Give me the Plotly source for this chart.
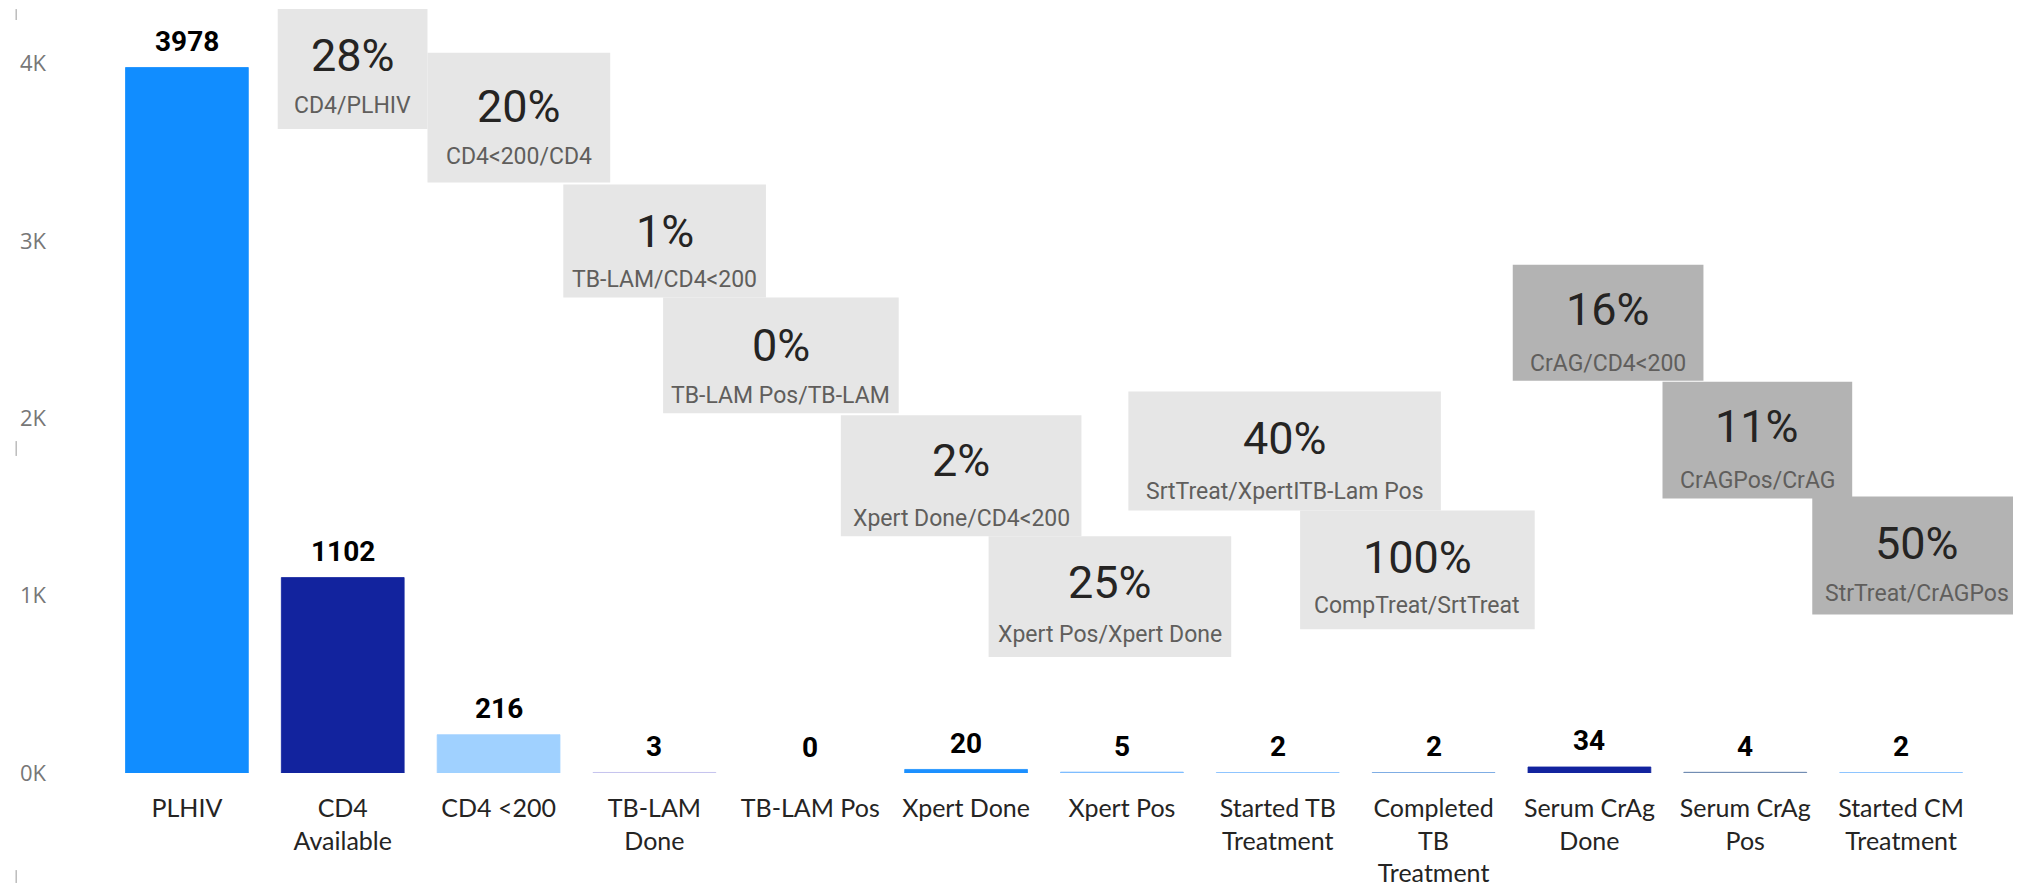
import plotly.graph_objects as go

# funnel counts
categories = [
    "PLHIV",
    "CD4<br>Available",
    "CD4 &lt;200",
    "TB-LAM<br>Done",
    "TB-LAM Pos",
    "Xpert Done",
    "Xpert Pos",
    "Started TB<br>Treatment",
    "Completed<br>TB<br>Treatment",
    "Serum CrAg<br>Done",
    "Serum CrAg<br>Pos",
    "Started CM<br>Treatment",
]
counts = [3978, 1102, 216, 3, 0, 20, 5, 2, 2, 34, 4, 2]

y_tick_vals = [0, 1000, 2000, 3000, 4000]
y_tick_text = ["0K", "1K", "2K", "3K", "4K"]

# ratio cards
ratio_values = ["28%", "20%", "1%", "0%", "2%", "25%", "40%", "100%", "16%", "11%", "50%"]
ratio_labels = [
    "CD4/PLHIV",
    "CD4&lt;200/CD4",
    "TB-LAM/CD4&lt;200",
    "TB-LAM Pos/TB-LAM",
    "Xpert Done/CD4&lt;200",
    "Xpert Pos/Xpert Done",
    "SrtTreat/XpertITB-Lam Pos",
    "CompTreat/SrtTreat",
    "CrAG/CD4&lt;200",
    "CrAGPos/CrAG",
    "StrTreat/CrAGPos",
]

# styling
BAR_COLORS = [
    "#118DFF", "#12239E", "#A0D1FF", "#C3C0EC", "rgba(0,0,0,0)", "#1C90FF",
    "#7FBEFF", "#7CBBFF", "#6A9FE0", "#12239E", "#6B87AE", "#7BBBFF",
]

# card boxes in page pixels: x0, x1, y0, y1, number y, label y
CARDS = [
    (275, 425, 9, 130, 56, 106),
    (425, 608, 53, 184, 107, 158),
    (561, 764, 186, 300, 233, 282),
    (661, 897, 300, 417, 349, 399),
    (839, 1080, 419, 541, 465, 523),
    (987, 1230, 541, 663, 588, 640),
    (1127, 1440, 395, 515, 442, 496),
    (1299, 1534, 515, 635, 563, 611),
    (1512, 1703, 267, 384, 312, 367),
    (1662, 1852, 385, 503, 430, 485),
    (1812, 2021, 501, 620, 548, 599),
]
CARD_FILLS = ["#E6E6E6"] * 8 + ["#B3B3B3"] * 3

# the html body keeps its default 8px margin: the figure sits at (8, 8) on the page
OFF = 8
W, H = 2021, 891
PLOT_L, PLOT_R, PLOT_T, BASE = 106, 1979, 20, 780  # page pixels
ML, MR, MT, MB = PLOT_L - OFF, W - (PLOT_R - OFF), PLOT_T - OFF, H - (BASE - OFF)
PW, PH = W - ML - MR, H - MT - MB
PX_PER_K = 179.0


def px(x):
    return (x - PLOT_L) / PW


def py(y):
    return (BASE - y) / PH


fig = go.Figure()

fig.add_trace(
    go.Bar(
        x=categories,
        y=counts,
        marker=dict(
            color=BAR_COLORS,
            line=dict(color=BAR_COLORS, width=0.8),
        ),
        hoverinfo="x+y",
    )
)

# value labels above bars
for cat, val in zip(categories, counts):
    fig.add_annotation(
        x=cat,
        y=val,
        text=f"<b>{val}</b>",
        showarrow=False,
        yanchor="middle",
        yshift=26,
        font=dict(family="Roboto", size=28, color="#000000"),
    )

# ratio cards
for (x0, x1, y0, y1, ny, ly), fill, v, lab in zip(CARDS, CARD_FILLS, ratio_values, ratio_labels):
    fig.add_shape(
        type="rect",
        xref="paper",
        yref="paper",
        x0=px(x0),
        x1=px(x1),
        y0=py(y1),
        y1=py(y0),
        fillcolor=fill,
        line=dict(width=0),
        layer="above",
    )
    xc = px((x0 + x1) / 2)
    fig.add_annotation(
        x=xc, y=py(ny), xref="paper", yref="paper",
        text=v, showarrow=False, xanchor="center", yanchor="middle",
        font=dict(family="Roboto", size=45, color="#252423"),
    )
    fig.add_annotation(
        x=xc, y=py(ly), xref="paper", yref="paper",
        text=lab, showarrow=False, xanchor="center", yanchor="middle",
        font=dict(family="Roboto", size=23, color="#605E5C"),
    )

# small scroll marks on the left edge
for y0, y1 in [(9, 20), (445, 460), (878, 891)]:
    fig.add_shape(
        type="line", xref="paper", yref="paper",
        x0=px(13), x1=px(13), y0=py(y1), y1=py(y0),
        line=dict(color="#9a9a9a", width=1),
    )

fig.update_layout(
    width=W,
    height=H,
    margin=dict(l=ML, r=MR, t=MT, b=MB),
    plot_bgcolor="white",
    paper_bgcolor="white",
    bargap=0.212,
    showlegend=False,
    font=dict(family="Lato"),
    xaxis=dict(
        showgrid=False,
        showline=False,
        zeroline=False,
        tickfont=dict(family="Lato", size=25, color="#252423"),
        ticklabelstandoff=18,
    ),
    yaxis=dict(
        range=[0, PH / PX_PER_K * 1000],
        showgrid=False,
        showline=False,
        zeroline=False,
        tickvals=y_tick_vals,
        ticktext=y_tick_text,
        tickfont=dict(family="Open Sans", size=22, color="#777777"),
        ticklabelstandoff=62,
    ),
)

fig.write_html("out.html")
